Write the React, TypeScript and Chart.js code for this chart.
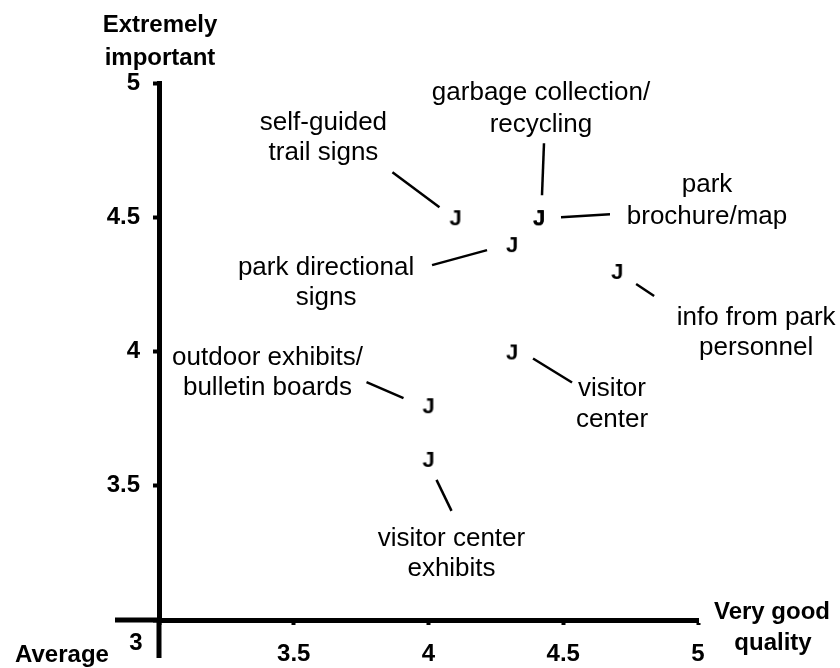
import React, { useEffect, useRef } from 'react';
import { Chart, registerables } from 'chart.js';

Chart.register(...registerables);

// ---- data ----
const items = [
  'self-guided trail signs',
  'garbage collection/recycling',
  'park brochure/map',
  'park directional signs',
  'info from park personnel',
  'visitor center',
  'outdoor exhibits/bulletin boards',
  'visitor center exhibits',
];
const qualityScores = [4.1, 4.41, 4.41, 4.31, 4.7, 4.31, 4.0, 4.0];
const importanceScores = [4.5, 4.5, 4.5, 4.4, 4.3, 4.0, 3.8, 3.6];
const labelLines = [
  ['self-guided', 'trail signs'],
  ['garbage collection/', 'recycling'],
  ['park', 'brochure/map'],
  ['park directional', 'signs'],
  ['info from park', 'personnel'],
  ['visitor', 'center'],
  ['outdoor exhibits/', 'bulletin boards'],
  ['visitor center', 'exhibits'],
];
const axisMin = 3;
const axisMax = 5;
const axisStep = 0.5;
const xTitleLines = ['Very good', 'quality'];
const yTitleLines = ['Extremely', 'important'];
const originTitle = 'Average';
const originTick = '3';

// ---- layout of annotations (pixel offsets from each point) ----
const labelLayout = [
  { dx: -132, dy: [-94, -64], lead: [-63, -45, -16, -10] },
  { dx: 2, dy: [-124, -92], lead: [5, -74, 3, -22] },
  { dx: 168, dy: [-32, 0], lead: [22, 0, 71, -3] },
  { dx: -186, dy: [24, 54], lead: [-80, 21, -25, 6] },
  { dx: 139, dy: [47, 77], lead: [19, 13, 37, 25] },
  { dx: 100, dy: [37, 68], lead: [21, 7, 60, 31] },
  { dx: -161, dy: [-47, -17], lead: [-62, -23, -25, -7] },
  { dx: 23, dy: [80, 110], lead: [8, 21, 23, 52] },
];

const FONT = '"Liberation Sans", Arial, Helvetica, sans-serif';

const annotPlugin = {
  id: 'annot',
  afterDraw(chart: any) {
    const ctx = chart.ctx;
    const xs = chart.scales.x;
    const ys = chart.scales.y;
    const meta = chart.getDatasetMeta(0);
    const ox = xs.getPixelForValue(axisMin);
    const oy = ys.getPixelForValue(axisMin);
    ctx.save();
    // axis extensions past the origin
    ctx.strokeStyle = '#000';
    ctx.lineWidth = 5;
    ctx.lineCap = 'butt';
    ctx.beginPath();
    ctx.moveTo(ox - 44, oy);
    ctx.lineTo(ox + 2.5, oy);
    ctx.moveTo(ox, oy - 2.5);
    ctx.lineTo(ox, oy + 38);
    ctx.stroke();

    // leader lines + labels
    ctx.lineWidth = 2.5;
    ctx.font = '26px ' + FONT;
    ctx.fillStyle = '#000';
    ctx.textAlign = 'center';
    ctx.textBaseline = 'middle';
    meta.data.forEach((pt: any, i: number) => {
      const lay = labelLayout[i];
      const [x1, y1, x2, y2] = lay.lead;
      ctx.beginPath();
      ctx.moveTo(pt.x + x1, pt.y + y1);
      ctx.lineTo(pt.x + x2, pt.y + y2);
      ctx.stroke();
      labelLines[i].forEach((line, j) => {
        ctx.fillText(line, pt.x + lay.dx, pt.y + lay.dy[j]);
      });
    });

    // axis titles
    ctx.font = 'bold 24px ' + FONT;
    ctx.textBaseline = 'alphabetic';
    ctx.textAlign = 'center';
    const top = chart.chartArea.top;
    ctx.fillText(yTitleLines[0], ox + 1, top - 51);
    ctx.fillText(yTitleLines[1], ox + 1, top - 18);
    ctx.fillText(xTitleLines[0], xs.right + 74, oy - 1);
    ctx.fillText(xTitleLines[1], xs.right + 75, oy + 30);
    ctx.fillText(originTitle, ox - 97, oy + 42);
    ctx.fillText(originTick, ox - 23, oy + 30);
    ctx.restore();
  },
};

function makeJ(): HTMLCanvasElement {
  const c = document.createElement('canvas');
  c.width = 24;
  c.height = 24;
  const g = c.getContext('2d')!;
  g.fillStyle = '#000';
  g.font = 'bold 22px ' + FONT;
  g.textAlign = 'center';
  g.textBaseline = 'alphabetic';
  g.fillText('J', 12, 20);
  return c;
}

export default function App() {
  const ref = useRef<HTMLCanvasElement>(null);
  useEffect(() => {
    if (!ref.current) return;
    const jStyle = makeJ();
    const zeroPad = (s: any) => {
      s.paddingTop = 0;
      s.paddingBottom = 0;
      s.paddingLeft = 0;
      s.paddingRight = 0;
    };
    const chart = new Chart(ref.current, {
      type: 'scatter',
      data: {
        labels: items,
        datasets: [
          {
            label: 'items',
            data: qualityScores.map((q, i) => ({ x: q, y: importanceScores[i] })),
            pointStyle: jStyle as any,
            pointRadius: 10,
            pointHoverRadius: 10,
          },
        ],
      },
      options: {
        animation: false,
        responsive: false,
        devicePixelRatio: 1,
        events: [],
        layout: { padding: { left: 0, top: 83, right: 142, bottom: 0 } },
        plugins: { legend: { display: false }, tooltip: { enabled: false } },
        scales: {
          x: {
            type: 'linear',
            min: axisMin,
            max: axisMax,
            afterFit: (s: any) => {
              s.height = 48;
              zeroPad(s);
            },
            ticks: {
              stepSize: axisStep,
              padding: 15,
              color: '#000',
              font: { family: FONT, size: 24, weight: 'bold' },
              callback: (v: any) => (v === axisMin ? '' : String(v)),
              maxRotation: 0,
              autoSkip: false,
            },
            grid: {
              display: true,
              drawOnChartArea: false,
              drawTicks: true,
              tickLength: 5,
              tickWidth: 4,
              tickColor: '#000',
            },
            border: { display: true, width: 5, color: '#000' },
          },
          y: {
            type: 'linear',
            min: axisMin,
            max: axisMax,
            afterFit: (s: any) => {
              s.width = 159;
              zeroPad(s);
            },
            ticks: {
              stepSize: axisStep,
              padding: 13,
              color: '#000',
              font: { family: FONT, size: 24, weight: 'bold' },
              callback: (v: any) => (v === axisMin ? '' : String(v)),
              autoSkip: false,
            },
            grid: {
              display: true,
              drawOnChartArea: false,
              drawTicks: true,
              tickLength: 6,
              tickWidth: 4,
              tickColor: '#000',
            },
            border: { display: true, width: 5, color: '#000' },
          },
        },
      },
      plugins: [annotPlugin],
    });
    return () => chart.destroy();
  }, []);
  return (
    <div style={{ position: 'absolute', left: 0, top: 0, width: 840, height: 668, background: '#fff' }}>
      <canvas ref={ref} width={840} height={668} style={{ width: 840, height: 668, display: 'block' }} />
    </div>
  );
}
